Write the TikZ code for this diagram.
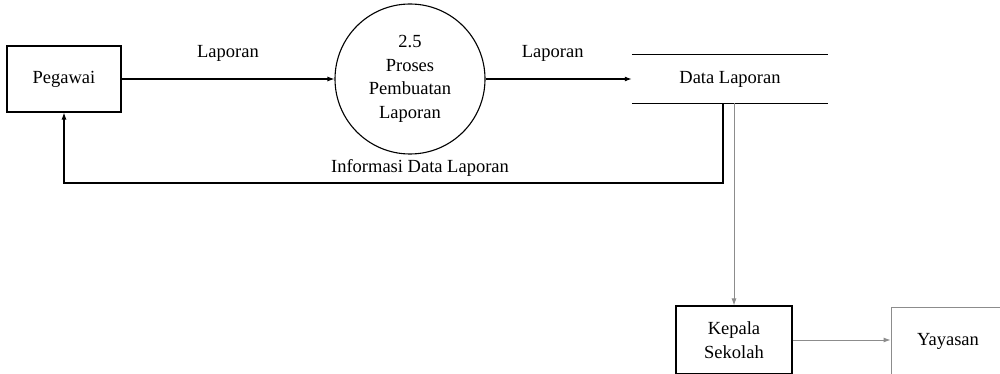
\documentclass[tikz,border=0pt]{standalone}
\usepackage{fontspec}
\setmainfont{Liberation Serif}
\usetikzlibrary{arrows.meta}

\begin{document}
\begin{tikzpicture}[x=1pt,y=-1pt,
  every node/.style={font=\fontsize{18.5}{23.5}\selectfont, inner sep=0pt},
  entity/.style={draw, line width=1.1pt, minimum width=114pt, minimum height=66pt, align=center},
  faint/.style={draw=black!45, line width=0.9pt},
  process/.style={draw, circle, line width=1.1pt, minimum size=150pt, align=center},
  flow/.style={line width=1.1pt, -{Latex[length=7pt,width=5pt]}},
  faintflow/.style={draw=black!45, line width=0.9pt, -{Latex[length=7pt,width=5pt]}},
  lbl/.style={fill=none}
]
\useasboundingbox (0,0) rectangle (1000,374);
\fill[white] (0,0) rectangle (1000,374);

% external entities
\node[entity] (peg) at (64,79) {Pegawai};
\node[entity, minimum width=116pt, minimum height=68pt] (kep) at (734,340) {Kepala\\Sekolah};
\node[entity, faint, minimum width=114pt, minimum height=68pt] (yay) at (948,341) {Yayasan};

% process
\node[process] (proc) at (410,79) {2.5\\Proses\\Pembuatan\\Laporan};

% data store: open-ended with two horizontal rules
\node[minimum width=196pt, minimum height=48pt] (store) at (730,79) {Data Laporan};
\draw[line width=1.1pt] (store.north west) -- (store.north east);
\draw[line width=1.1pt] (store.south west) -- (store.south east);

% data flows
\draw[flow] (peg.east) -- node[lbl, above=17pt] {Laporan} (proc.west);
\draw[flow] (proc.east) -- node[lbl, above=17pt, xshift=-6pt] {Laporan} (store.west);
\draw[flow] ([xshift=-7pt]store.south) -- (723,183) -| (peg.south);
\node[lbl] (info) at (420,168) {Informasi Data Laporan};
\draw[faintflow] ([xshift=4pt]store.south) -- (kep.north);
\draw[faintflow] (kep.east) -- (yay.west |- kep.east);
\end{tikzpicture}
\end{document}
